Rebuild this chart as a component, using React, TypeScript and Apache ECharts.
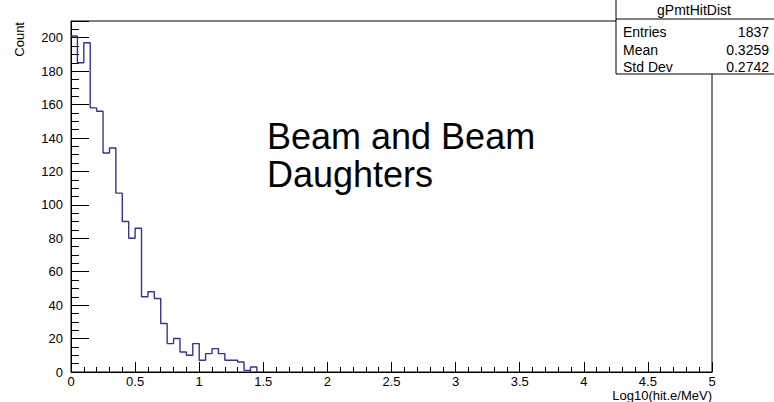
import React, { useEffect, useRef } from "react";
import * as echarts from "echarts";

// Histogram: bin width 0.05 in Log10(hit.e/MeV), bins starting at 0
const binWidth = 0.05;
const counts = [
  201, 185, 197, 158, 156, 131, 134, 107, 90, 80,
  86, 45, 48, 44, 29, 17, 20, 12, 10, 17,
  7, 11, 14, 11, 7, 7, 6, 1, 3,
];
const statsTitle = "gPmtHitDist";
const statsLabels = ["Entries", "Mean", "Std Dev"];
const statsValues = ["1837", "0.3259", "0.2742"];
const annotation = "Beam and Beam\nDaughters";
const xTitle = "Log10(hit.e/MeV)";
const yTitle = "Count";

const FONT = "'Liberation Sans', Arial, Helvetica, sans-serif";

export default function App() {
  const ref = useRef<HTMLDivElement>(null);
  useEffect(() => {
    if (!ref.current) return;
    const chart = echarts.init(ref.current, null, { renderer: "svg" });
    const data: [number, number][] = counts.map((c, i) => [i * binWidth, c]);
    data.push([counts.length * binWidth, 0]);

    const statsX = 616;
    const statsW = 162;
    const rowY = [32, 50, 67];

    chart.setOption({
      animation: false,
      backgroundColor: "#ffffff",
      textStyle: { fontFamily: FONT },
      grid: {
        left: 71,
        right: 62,
        top: 21,
        bottom: 30,
        show: true,
        borderColor: "#000",
        borderWidth: 1,
        backgroundColor: "transparent",
        outerBoundsMode: "none",
      },
      xAxis: {
        type: "value",
        min: 0,
        max: 5,
        interval: 0.5,
        axisLine: { show: true, onZero: false, lineStyle: { color: "#000", width: 1 } },
        axisTick: { show: true, inside: true, length: 10, lineStyle: { color: "#000" } },
        minorTick: { show: true, splitNumber: 5, length: 5, lineStyle: { color: "#000" } },
        splitLine: { show: false },
        axisLabel: {
          fontFamily: FONT,
          fontSize: 13,
          color: "#000",
          margin: 3,
          formatter: (v: number) => String(v),
        },
      },
      yAxis: {
        type: "value",
        min: 0,
        max: 210,
        interval: 20,
        axisLine: { show: true, onZero: false, lineStyle: { color: "#000", width: 1 } },
        axisTick: { show: true, inside: true, length: 18, lineStyle: { color: "#000" } },
        minorTick: { show: true, splitNumber: 4, length: 8, lineStyle: { color: "#000" } },
        splitLine: { show: false },
        axisLabel: {
          fontFamily: FONT,
          fontSize: 13,
          color: "#000",
          margin: 8,
          showMaxLabel: false,
        },
      },
      series: [
        {
          type: "line",
          step: "end",
          data,
          symbol: "none",
          lineStyle: { color: "#333399", width: 1.4 },
          silent: true,
        },
      ],
      graphic: [
        {
          type: "text",
          left: 267,
          top: 117,
          style: {
            text: annotation,
            font: `36px ${FONT}`,
            fill: "#000",
            lineHeight: 38,
          },
        },
        {
          type: "text",
          x: 712,
          y: 389,
          style: {
            text: xTitle,
            font: `13px ${FONT}`,
            fill: "#000",
            align: "right",
            verticalAlign: "top",
          },
        },
        {
          type: "text",
          x: 26,
          y: 22,
          rotation: Math.PI / 2,
          style: {
            text: yTitle,
            font: `13px ${FONT}`,
            fill: "#000",
            align: "right",
            verticalAlign: "bottom",
          },
        },
        {
          type: "rect",
          shape: { x: statsX, y: -1, width: statsW, height: 75 },
          style: { fill: "#fff", stroke: "#000", lineWidth: 1 },
        },
        {
          type: "line",
          shape: { x1: statsX, y1: 19, x2: statsX + statsW, y2: 19 },
          style: { stroke: "#000", lineWidth: 1 },
        },
        {
          type: "text",
          x: statsX + statsW / 2 - 3,
          y: 10,
          style: {
            text: statsTitle,
            font: `14px ${FONT}`,
            fill: "#000",
            align: "center",
            verticalAlign: "middle",
          },
        },
        ...statsLabels.map((l, i) => ({
          type: "text",
          x: statsX + 7,
          y: rowY[i],
          style: { text: l, font: `14px ${FONT}`, fill: "#000", align: "left", verticalAlign: "middle" },
        })),
        ...statsValues.map((v, i) => ({
          type: "text",
          x: 769,
          y: rowY[i],
          style: { text: v, font: `14px ${FONT}`, fill: "#000", align: "right", verticalAlign: "middle" },
        })),
      ],
    });
    return () => chart.dispose();
  }, []);
  return <div ref={ref} style={{ width: 774, height: 402, position: "absolute", left: 0, top: 0 }} />;
}
